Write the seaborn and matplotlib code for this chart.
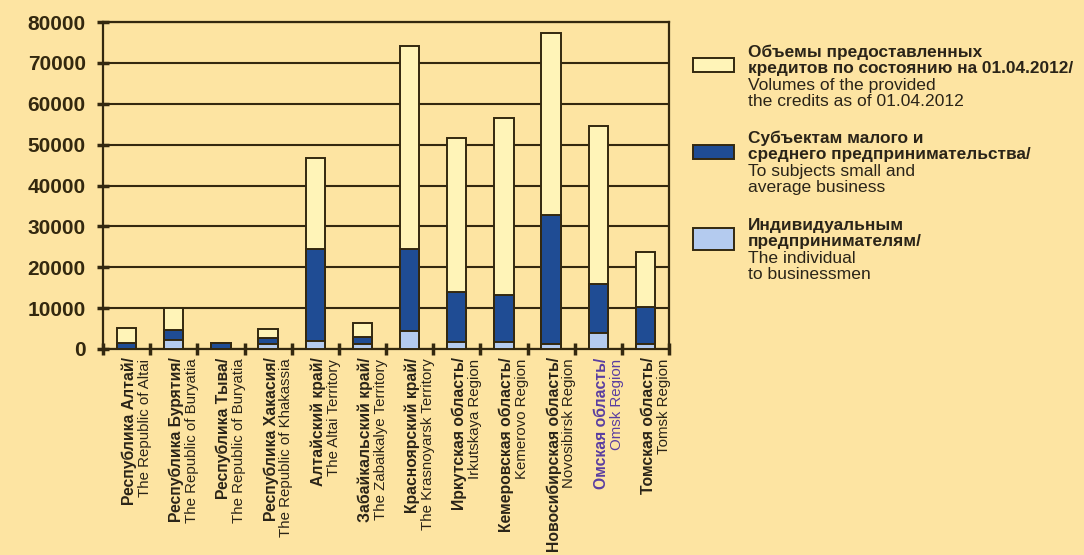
import matplotlib
matplotlib.use("Agg")
import matplotlib.pyplot as plt
import matplotlib.patches as mpatches
import matplotlib.transforms as mtransforms
import seaborn as sns
import pandas as pd

regions_ru = ["Республика Алтай/", "Республика Бурятия/", "Республика Тыва/",
              "Республика Хакасия/", "Алтайский край/", "Забайкальский край/",
              "Красноярский край/", "Иркутская область/", "Кемеровская область/",
              "Новосибирская область/", "Омская область/", "Томская область/"]
regions_en = ["The Republic of Altai", "The Republic of Buryatia", "The Republic of Buryatia",
              "The Republic of Khakassia", "The Altai Territory", "The Zabaikalye Territory",
              "The Krasnoyarsk Territory", "Irkutskaya Region", "Kemerovo Region",
              "Novosibirsk Region", "Omsk Region", "Tomsk Region"]
total_credits = [5200, 10100, 1500, 4800, 46800, 6300, 74100, 51700, 56600, 77200, 54600, 23800]
smb_credits = [1400, 4650, 1500, 2800, 24400, 2850, 24450, 14000, 13100, 32800, 16000, 10200]
individual_credits = [0, 2100, 0, 1150, 2050, 1150, 4500, 1650, 1650, 1150, 4000, 1150]
yticks = [0, 10000, 20000, 30000, 40000, 50000, 60000, 70000, 80000]

legend_ru = [["Объемы предоставленных", "кредитов по состоянию на 01.04.2012/"],
             ["Субъектам малого и", "среднего предпринимательства/"],
             ["Индивидуальным", "предпринимателям/"]]
legend_en = [["Volumes of the provided", "the credits as of 01.04.2012"],
             ["To subjects small and", "average business"],
             ["The individual", "to businessmen"]]

BG = "#fde4a2"
DARK = "#33280f"
C_TOTAL = "#fff4b8"
C_SMB = "#1f4c94"
C_IND = "#b4cbef"

sns.set_theme(style="white")
plt.rcParams["font.family"] = ["Liberation Sans", "DejaVu Sans"]

df = pd.DataFrame({"region": regions_ru, "total": total_credits,
                   "smb": smb_credits, "ind": individual_credits})

fig = plt.figure(figsize=(10.84, 5.55), dpi=100, facecolor=BG)
ax = fig.add_axes([103/1084, 1 - 349/555, (669-103)/1084, (349-22)/555])
ax.set_facecolor(BG)

W = 0.41
for col, colr in [("total", C_TOTAL), ("smb", C_SMB), ("ind", C_IND)]:
    sns.barplot(data=df, x="region", y=col, order=regions_ru, color=colr,
                width=W, edgecolor=DARK, linewidth=1.4, saturation=1, ax=ax, zorder=3)

ax.set_ylim(0, 80000)
ax.set_xlim(-0.5, len(regions_ru) - 0.5)
ax.set_yticks(yticks)
ax.set_yticklabels([str(v) for v in yticks], fontsize=15, fontweight="bold", color=DARK)
ax.yaxis.grid(True, color=DARK, linewidth=1.5, zorder=0)
ax.set_axisbelow(True)
ax.set_xlabel("")
ax.set_ylabel("")
for s in ax.spines.values():
    s.set_visible(True)
    s.set_color(DARK)
    s.set_linewidth(1.6)
ax.tick_params(axis="y", direction="inout", length=9, width=2.5, color=DARK, pad=8, left=True)
ax.set_xticks(range(len(regions_ru)))
ax.set_xticklabels([""] * len(regions_ru))
ax.tick_params(axis="x", which="major", length=0)
ax.set_xticks([i - 0.5 for i in range(len(regions_ru) + 1)], minor=True)
ax.tick_params(axis="x", which="minor", direction="inout", length=9, width=2.5,
               color=DARK, bottom=True)

trans = mtransforms.blended_transform_factory(ax.transData, ax.transAxes)
for i, (ru, en) in enumerate(zip(regions_ru, regions_en)):
    col = "#5a3ea0" if i == 10 else "#2a2418"
    off_ru = mtransforms.offset_copy(trans, fig=fig, x=2.0, y=-6, units="points")
    off_en = mtransforms.offset_copy(trans, fig=fig, x=13.2, y=-7, units="points")
    ax.text(i, 0, ru, transform=off_ru, rotation=90, ha="center", va="top",
            fontsize=11.3, fontweight="bold", color=col)
    ax.text(i, 0, en, transform=off_en, rotation=90, ha="center", va="top",
            fontsize=10.8, color=col)

# legend
H = 555
patch_boxes = [(58, 72), (145, 159), (228, 250)]
text_tops = [45, 131, 218]
colors = [C_TOTAL, C_SMB, C_IND]
for k in range(3):
    top, bot = patch_boxes[k]
    r = mpatches.Rectangle((693/1084, 1 - bot/H), 41/1084, (bot - top)/H,
                           transform=fig.transFigure, facecolor=colors[k],
                           edgecolor=DARK, linewidth=1.4)
    fig.patches.append(r)
    lines = [(t, "bold", 12.4) for t in legend_ru[k]] + [(t, "normal", 12.6) for t in legend_en[k]]
    for j, (t, w, fs) in enumerate(lines):
        fig.text(748/1084, 1 - (text_tops[k] + j*16.3)/H, t, fontsize=fs,
                 fontweight=w, color="#2a2418", ha="left", va="top")

fig.savefig("out.png", dpi=100, facecolor=BG)
